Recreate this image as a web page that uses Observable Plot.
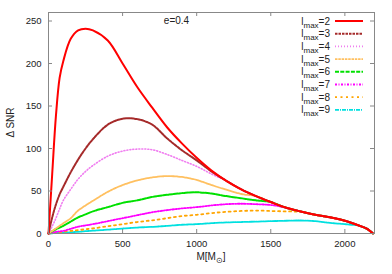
<!DOCTYPE html>
<html><head><meta charset="utf-8">
<script src="https://cdn.jsdelivr.net/npm/d3@7"></script>
<script src="https://cdn.jsdelivr.net/npm/@observablehq/plot@0.6"></script>
<style>body{margin:0;background:#fff}svg{display:block}</style>
</head><body><div id="chart"></div>
<script>
const mass  = [0, 25, 50, 75, 100, 150, 200, 250, 300, 400, 500, 600, 700, 800, 900, 1000, 1100, 1200, 1300, 1400, 1500, 1600, 1700, 1800, 1900, 2000, 2100, 2150, 2190];
const lmax2 = [0, 70, 138, 183, 203, 229, 239, 241, 239, 227, 200, 172, 148, 125, 106, 89, 74, 62, 52, 44, 37, 30.5, 26, 22, 19, 15, 9, 5.5, 0];
const lmax3 = [0, 19, 34, 46, 55, 72, 87, 100, 111, 128, 135, 134.5, 128, 112, 98, 86, 73, 62, 52, 44, 37, 30.5, 26, 22, 19, 15, 9, 5.5, 0];
const lmax4 = [0, 8.5, 18, 29, 39, 52, 64, 73, 80, 91, 97, 99.3, 98.5, 93, 86, 79, 70, 62, 52, 44, 37, 30.5, 26, 22, 19, 15, 9, 5.5, 0];
const lmax5 = [0, 3, 6, 9, 12, 18, 27, 33, 38.5, 49, 57, 62.5, 66, 67.5, 66.5, 63, 57, 51.5, 46.5, 44, 37, 30.5, 26, 22, 19, 15, 9, 5.5, 0];
const lmax6 = [0, 2.5, 5, 7, 9, 14, 19, 22.5, 26, 31, 36, 39, 43, 45.5, 47.5, 48.5, 47, 44, 41.5, 39, 37, 30.5, 26, 22, 19, 15, 9, 5.5, 0];
const lmax7 = [0, 1, 2, 2.5, 3, 5.5, 8, 9.5, 11, 14.5, 18, 21.5, 25, 27.5, 29.5, 31, 33, 34.5, 35, 34.5, 33.5, 30.5, 26, 22, 19, 15, 9, 5.5, 0];
const lmax8 = [0, 0.5, 1, 1.5, 2, 3, 4, 5, 6, 8.5, 11, 13.5, 15.5, 18, 20.5, 22, 24, 25.5, 26.5, 27, 26.5, 26, 25.5, 22, 19, 15, 9, 5.5, 0];
const lmax9 = [0, 0.3, 0.5, 0.8, 1, 1.5, 2, 2.7, 3.3, 4.5, 5.8, 7, 7.8, 9, 10.3, 11, 12.2, 13, 13.5, 14, 14.5, 15, 15.3, 14.5, 12.5, 11, 9, 5.5, 0];
const seriesNames = ["2", "3", "4", "5", "6", "7", "8", "9"];
const seriesValues = [lmax2, lmax3, lmax4, lmax5, lmax6, lmax7, lmax8, lmax9];
const xTicks = [0, 500, 1000, 1500, 2000];
const yTicks = [0, 50, 100, 150, 200, 250];

const styles = [
  {stroke: "#ff0000", width: 2, dash: null},
  {stroke: "#a52a2a", width: 2, dash: "2.5,1"},
  {stroke: "#f07ef0", width: 1.6, dash: "1,2"},
  {stroke: "#ffc060", width: 1.8, dash: "2.5,0.8"},
  {stroke: "#00e000", width: 2, dash: "4,1.3"},
  {stroke: "#ff00ff", width: 1.8, dash: "2,1.5,1,1.5"},
  {stroke: "#ffa500", width: 1.8, dash: "2,3.5"},
  {stroke: "#00e0e0", width: 1.8, dash: "4,1,1,1"}
];

const W = 392, H = 274, mL = 48, mR = 18, mT = 12, mB = 41;
const fw = W - mL - mR, fh = H - mT - mB;
const font = "'Liberation Sans', Arial, Helvetica, sans-serif";

const lineMarks = seriesValues.map((vals, i) =>
  Plot.line(mass.map((m, j) => ({m, v: vals[j]})), {
    x: "m", y: "v", stroke: styles[i].stroke, strokeWidth: styles[i].width,
    strokeDasharray: styles[i].dash, curve: "catmull-rom"
  })
).reverse();

const svg = Plot.plot({
  width: W, height: H,
  marginLeft: mL, marginRight: mR, marginTop: mT, marginBottom: mB,
  style: {fontFamily: font, fontSize: "9.5px", color: "#222", background: "#fff"},
  x: {domain: [0, 2200]},
  y: {domain: [0, 260]},
  marks: [
    ...lineMarks,
    Plot.frame({stroke: "#888", strokeWidth: 1}),
    Plot.tickX(xTicks, {x: d => d, stroke: "#888", insetTop: fh - 4}),
    Plot.tickX(xTicks, {x: d => d, stroke: "#888", insetBottom: fh - 4}),
    Plot.tickY(yTicks, {y: d => d, stroke: "#888", insetRight: fw - 4}),
    Plot.tickY(yTicks, {y: d => d, stroke: "#888", insetLeft: fw - 4}),
    Plot.axisX(xTicks, {anchor: "bottom", tickSize: 0, tickPadding: 7, label: null, fontSize: 9.5, tickFormat: d => String(d)}),
    Plot.axisY(yTicks, {anchor: "left", tickSize: 0, tickPadding: 7, label: null, fontSize: 9.5, tickFormat: d => String(d)}),
    Plot.text(["e=0.4"], {frameAnchor: "top", dx: -35, dy: 4, lineAnchor: "top", fontSize: 10, fill: "#222"})
  ]
});

const s = d3.select(svg);
s.append("text").attr("transform", `translate(14,${mT + fh / 2}) rotate(-90)`)
  .attr("text-anchor", "middle").attr("font-size", 10).attr("fill", "#222")
  .attr("font-family", font).text("Δ SNR");
const xl = s.append("text").attr("x", mL + fw / 2).attr("y", 260)
  .attr("text-anchor", "middle").attr("font-size", 10).attr("fill", "#222").attr("font-family", font);
xl.append("tspan").text("M[M");
xl.append("tspan").attr("font-size", 7.5).attr("dy", 3).text("⊙");
xl.append("tspan").attr("dy", -3).text("]");

const lg = s.append("g").attr("font-family", font).attr("font-size", 10).attr("fill", "#222");
seriesNames.forEach((n, i) => {
  const y = 21 + i * 12.7;
  const t = lg.append("text").attr("x", 330).attr("y", y + 3.5).attr("text-anchor", "end");
  t.append("tspan").text("l");
  t.append("tspan").attr("font-size", 8).attr("dy", 3).text("max");
  t.append("tspan").attr("dy", -3).text("=" + n);
  lg.append("line").attr("x1", 335).attr("x2", 363).attr("y1", y).attr("y2", y)
    .attr("stroke", styles[i].stroke).attr("stroke-width", styles[i].width)
    .attr("stroke-dasharray", styles[i].dash);
});

document.getElementById("chart").appendChild(svg);
</script>
</body></html>
